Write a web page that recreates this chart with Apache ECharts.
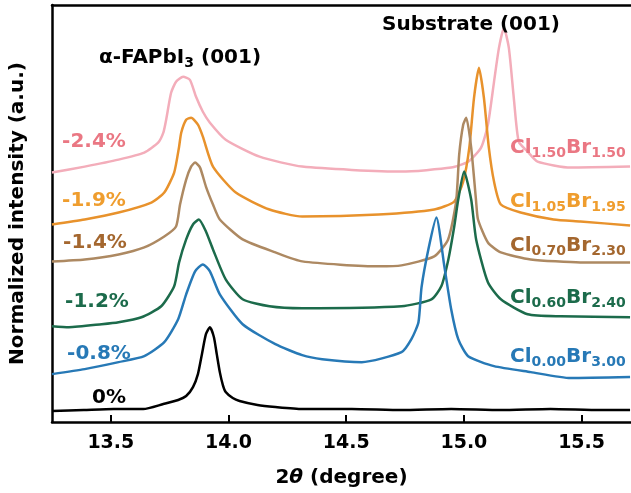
<!DOCTYPE html>
<html>
<head>
<meta charset="utf-8">
<script src="https://cdn.jsdelivr.net/npm/echarts@6/dist/echarts.min.js"></script>
<style>
html,body{margin:0;padding:0;background:#fff;}
#c{width:631px;height:493px;}
</style>
</head>
<body>
<div id="c"></div>
<script>
// x: 2theta (degree); y: normalized intensity incl. vertical stacking offset (a.u.)
const xTicks = [13.5, 14.0, 14.5, 15.0, 15.5];

const s0 = [[13.250,11],[13.385,12],[13.512,13],[13.638,13],[13.723,18],[13.786,22],[13.820,26],[13.849,35],[13.870,48],[13.887,68],[13.904,88],[13.921,95],[13.938,85],[13.950,68],[13.963,50],[13.976,37],[13.988,30],[14.018,24],[14.047,21],[14.123,17],[14.199,15],[14.313,13],[14.524,13],[14.735,12],[14.946,13],[15.157,12],[15.368,13],[15.579,12],[15.706,12]];

const s08 = [[13.250,48],[13.389,53],[13.533,60],[13.642,66],[13.727,80],[13.786,103],[13.820,128],[13.858,151],[13.891,158],[13.921,151],[13.963,128],[14.060,98],[14.199,78],[14.313,67],[14.398,63],[14.566,60],[14.735,70],[14.777,83],[14.807,100],[14.820,135],[14.849,173],[14.883,205],[14.917,156],[14.946,113],[14.976,83],[15.018,66],[15.128,56],[15.284,50],[15.453,44],[15.706,45]];

const s12 = [[13.250,96],[13.322,95],[13.461,98],[13.533,100],[13.630,105],[13.714,116],[13.769,136],[13.790,160],[13.820,183],[13.849,198],[13.874,203],[13.904,191],[13.934,173],[13.988,143],[14.060,123],[14.174,116],[14.313,114],[14.735,116],[14.862,123],[14.904,136],[14.934,163],[14.959,196],[14.976,223],[15.001,251],[15.031,223],[15.052,183],[15.102,140],[15.157,123],[15.271,108],[15.410,106],[15.706,105]];

const s14 = [[13.250,161],[13.389,163],[13.533,168],[13.642,175],[13.727,186],[13.777,196],[13.794,218],[13.820,243],[13.841,256],[13.858,260],[13.879,255],[13.904,236],[13.934,218],[13.963,203],[14.060,183],[14.199,170],[14.313,161],[14.638,156],[14.735,157],[14.874,166],[14.933,183],[14.967,221],[14.980,268],[14.997,298],[15.010,305],[15.031,275],[15.052,221],[15.060,203],[15.102,180],[15.157,170],[15.284,163],[15.495,160],[15.706,160]];

const s19 = [[13.250,198],[13.389,203],[13.533,210],[13.672,220],[13.727,230],[13.769,250],[13.790,276],[13.799,290],[13.820,303],[13.841,305],[13.870,298],[13.891,286],[13.934,256],[14.031,230],[14.174,213],[14.313,206],[14.638,208],[14.874,213],[14.959,221],[14.997,241],[15.023,275],[15.043,325],[15.064,355],[15.085,325],[15.106,275],[15.128,241],[15.157,218],[15.241,210],[15.381,203],[15.495,201],[15.706,197]];

const s24 = [[13.250,250],[13.389,256],[13.533,263],[13.642,270],[13.701,280],[13.723,290],[13.735,303],[13.756,330],[13.777,341],[13.807,346],[13.836,343],[13.862,326],[13.891,311],[13.921,300],[13.988,283],[14.132,266],[14.313,256],[14.735,251],[14.946,255],[15.018,261],[15.073,275],[15.102,298],[15.128,341],[15.149,375],[15.170,395],[15.191,375],[15.212,325],[15.233,281],[15.271,271],[15.313,261],[15.453,255],[15.706,256]];

const seriesNames = ['Cl1.50Br1.50','Cl1.05Br1.95','Cl0.70Br2.30','Cl0.60Br2.40','Cl0.00Br3.00','0%'];
const seriesData = [s24, s19, s14, s12, s08, s0];
const lineColors = ['#f3adba','#e8922c','#ad8962','#1c6b4b','#2779b6','#000000'];
const labelColors = ['#ea7783','#ef9d2e','#a4672f','#1c6b4b','#2779b6','#000000'];
const strainLabels = ['-2.4%','-1.9%','-1.4%','-1.2%','-0.8%','0%'];
const compMain = [['1.50','1.50'],['1.05','1.95'],['0.70','2.30'],['0.60','2.40'],['0.00','3.00']];

const FONT = 'DejaVu Sans';
const chart = echarts.init(document.getElementById('c'), null, {renderer:'canvas'});

const strainPos = [[94,142],[94,201],[95,243],[97,302],[99,354],[109,398]];
const compPos = [[510,148],[510,202],[510,246],[510,298],[510,357]];

const graphics = [];
strainLabels.forEach((t,i)=>{
  graphics.push({type:'text', x:strainPos[i][0], y:strainPos[i][1], z:100,
    style:{text:t, fill:labelColors[i], font:'bold 20px "'+FONT+'"', align:'center', verticalAlign:'middle'}});
});
compMain.forEach((c,i)=>{
  graphics.push({type:'text', x:compPos[i][0], y:compPos[i][1], z:100,
    style:{text:'{m|Cl}{s|'+c[0]+'}{m|Br}{s|'+c[1]+'}', align:'left', verticalAlign:'middle',
      rich:{m:{fontFamily:FONT,fontWeight:'bold',fontSize:20,fill:labelColors[i],lineHeight:24},
            s:{fontFamily:FONT,fontWeight:'bold',fontSize:14,fill:labelColors[i],lineHeight:10,verticalAlign:'bottom'}}}});
});
graphics.push({type:'text', x:180, y:58, z:100,
  style:{text:'{m|α-FAPbI}{s|3}{m| (001)}', align:'center', verticalAlign:'middle',
    rich:{m:{fontFamily:FONT,fontWeight:'bold',fontSize:20,fill:'#000',lineHeight:24},
          s:{fontFamily:FONT,fontWeight:'bold',fontSize:14,fill:'#000',lineHeight:10,verticalAlign:'bottom'}}}});
graphics.push({type:'text', x:471, y:25, z:100,
  style:{text:'Substrate (001)', fill:'#000', font:'bold 20px "'+FONT+'"', align:'center', verticalAlign:'middle'}});

const option = {
  animation:false,
  backgroundColor:'#fff',
  grid:{left:48, right:0, top:5, bottom:70, containLabel:false},
  xAxis:[{
    type:'value', min:13.25, max:15.71, position:'bottom',
    name:'{b|2}{i|θ}{b| (degree)}', nameLocation:'middle', nameGap:46,
    nameTextStyle:{rich:{b:{fontFamily:FONT,fontWeight:'bold',fontSize:20,color:'#000'},
                         i:{fontFamily:FONT,fontWeight:'bold',fontStyle:'italic',fontSize:20,color:'#000'}}},
    axisLine:{show:true, onZero:false, lineStyle:{color:'#000', width:2.5}},
    axisTick:{show:true, inside:true, length:7, lineStyle:{color:'#000', width:2}, customValues:xTicks},
    axisLabel:{show:true, color:'#000', fontFamily:FONT, fontWeight:'bold', fontSize:19, margin:12,
      customValues:xTicks, formatter:(v)=>v.toFixed(1)},
    splitLine:{show:false}
  },{
    type:'value', min:13.25, max:15.71, position:'top',
    axisLine:{show:true, onZero:false, lineStyle:{color:'#000', width:2.5}},
    axisTick:{show:false}, axisLabel:{show:false}, splitLine:{show:false}
  }],
  yAxis:{
    type:'value', min:0, max:418,
    name:'Normalized intensity (a.u.)', nameLocation:'middle', nameGap:24,
    nameTextStyle:{fontFamily:FONT, fontWeight:'bold', fontSize:20, color:'#000'},
    axisLine:{show:true, onZero:false, lineStyle:{color:'#000', width:2.5}},
    axisTick:{show:false}, axisLabel:{show:false}, splitLine:{show:false}
  },
  series: seriesData.map((d,i)=>({
    name:seriesNames[i], type:'line', data:d, showSymbol:false, symbol:'none',
    smooth:0.2, clip:true,
    lineStyle:{color:lineColors[i], width:2.5, join:'round'}, z:2+i
  })),
  graphic: graphics
};
chart.setOption(option);
</script>
</body>
</html>
